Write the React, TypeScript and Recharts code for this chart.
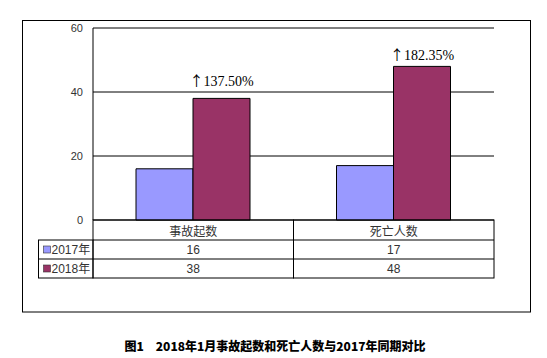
import React from "react";
import { BarChart, Bar, XAxis, YAxis, CartesianGrid, LabelList } from "recharts";

const categories = ["事故起数", "死亡人数"];
const series2017 = [16, 17];
const series2018 = [38, 48];
const growthLabels = ["137.50%", "182.35%"];
const seriesNames = ["2017年", "2018年"];
const yTicks = [0, 20, 40, 60];
const title = "图1　2018年1月事故起数和死亡人数与2017年同期对比";

const data = categories.map((c, i) => ({
  name: c,
  y2017: series2017[i],
  y2018: series2018[i],
  pct: growthLabels[i],
}));

const W = 547;
const H = 358;
const COLORS = ["#9999FF", "#993366"];
const M_TOP = 28;
const M_RIGHT = 53;
const Y_W = 40;
const M_LEFT = 93 - Y_W;
const TABLE_H = 58;
const M_BOTTOM = H - 220 - TABLE_H;
const PLOT_W = W - M_LEFT - Y_W - M_RIGHT;
const HALF = PLOT_W / (2 * categories.length);
const LEGEND_W = 54.5;
const ROW1 = 20;
const ROW2 = 39;
const LABEL_LIFT = [12, 6.5];

const TableTick = (props: any) => {
  const { x, y, payload, index } = props;
  const i = index;
  const left = x - HALF;
  return (
    <g>
      <rect x={left} y={y} width={HALF * 2} height={TABLE_H} fill="none" stroke="#000" strokeWidth={1} />
      <line x1={left} x2={left + HALF * 2} y1={y + ROW1} y2={y + ROW1} stroke="#000" />
      <line x1={left} x2={left + HALF * 2} y1={y + ROW2} y2={y + ROW2} stroke="#000" />
      <text x={x} y={y + ROW1 / 2} textAnchor="middle" dominantBaseline="central"
        fontFamily="'Noto Sans CJK SC', sans-serif" fontSize={12} fill="#333">
        {payload.value}
      </text>
      <text x={x} y={y + (ROW1 + ROW2) / 2} textAnchor="middle" dominantBaseline="central"
        fontFamily="'Liberation Sans', Arial, sans-serif" fontSize={12} fill="#333">
        {series2017[i]}
      </text>
      <text x={x} y={y + (ROW2 + TABLE_H) / 2} textAnchor="middle" dominantBaseline="central"
        fontFamily="'Liberation Sans', Arial, sans-serif" fontSize={12} fill="#333">
        {series2018[i]}
      </text>
      {i === 0 && (
        <g>
          <rect x={left - LEGEND_W} y={y + ROW1} width={LEGEND_W} height={TABLE_H - ROW1} fill="none" stroke="#000" />
          <line x1={left - LEGEND_W} x2={left} y1={y + ROW2} y2={y + ROW2} stroke="#000" />
          {seriesNames.map((s, k) => {
            const cy = y + (k === 0 ? (ROW1 + ROW2) / 2 : (ROW2 + TABLE_H) / 2);
            return (
              <g key={s}>
                <rect x={left - LEGEND_W + 5} y={cy - 3.5} width={7} height={7} fill={COLORS[k]} stroke="#333" strokeWidth={0.6} />
                <text x={left - LEGEND_W + 13} y={cy} dominantBaseline="central"
                  fontFamily="'Liberation Sans', 'Noto Sans CJK SC', sans-serif" fontSize={12} fill="#333">
                  {s}
                </text>
              </g>
            );
          })}
        </g>
      )}
    </g>
  );
};

const GrowthLabel = (props: any) => {
  const { x, y, width, value, index } = props;
  return (
    <text x={x + width / 2} y={y - LABEL_LIFT[index]} textAnchor="middle"
      fontFamily="'Liberation Serif', 'Times New Roman', serif" fontSize={14} fill="#000">
      <tspan fontFamily="'Noto Sans CJK SC', sans-serif" fontSize={14}>↑</tspan>
      <tspan>{value}</tspan>
    </text>
  );
};

export default function App() {
  return (
    <div style={{ position: "absolute", left: 0, top: 0, width: W, height: H, background: "#fff" }}>
      <svg width={W} height={H} style={{ position: "absolute", left: 0, top: 0 }}>
        <rect x={22.5} y={20.5} width={508} height={291.5} fill="none" stroke="#000" strokeWidth={1} />
        <text x={275} y={345} textAnchor="middle" dominantBaseline="central"
          fontFamily="'Noto Sans CJK SC', sans-serif" fontWeight={900} fontSize={12} fill="#000">
          {title}
        </text>
      </svg>
      <div style={{ position: "absolute", left: 0, top: 0 }}>
        <BarChart width={W} height={H} data={data}
          margin={{ top: M_TOP, right: M_RIGHT, left: M_LEFT, bottom: M_BOTTOM }}
          barSize={57} barGap={0}>
          <CartesianGrid yAxisId="l" vertical={false} stroke="#000" strokeOpacity={1} />
          <XAxis dataKey="name" height={TABLE_H} tickSize={0} tickMargin={0} axisLine={false}
            tickLine={false} tick={<TableTick />} interval={0} />
          <YAxis yAxisId="l" domain={[0, 60]} ticks={yTicks} width={Y_W} tickLine={false}
            tickSize={0} tickMargin={10} axisLine={{ stroke: "#000" }}
            tick={{ fontFamily: "'Liberation Sans', Arial, sans-serif", fontSize: 11, fill: "#333" }} />
          <YAxis yAxisId="r" orientation="right" domain={[0, 60]} width={0} tick={false}
            tickLine={false} axisLine={{ stroke: "#000" }} />
          <Bar yAxisId="l" dataKey="y2017" fill={COLORS[0]} stroke="#000" strokeWidth={1} isAnimationActive={false} />
          <Bar yAxisId="l" dataKey="y2018" fill={COLORS[1]} stroke="#000" strokeWidth={1} isAnimationActive={false}>
            <LabelList dataKey="pct" content={<GrowthLabel />} />
          </Bar>
        </BarChart>
      </div>
    </div>
  );
}
